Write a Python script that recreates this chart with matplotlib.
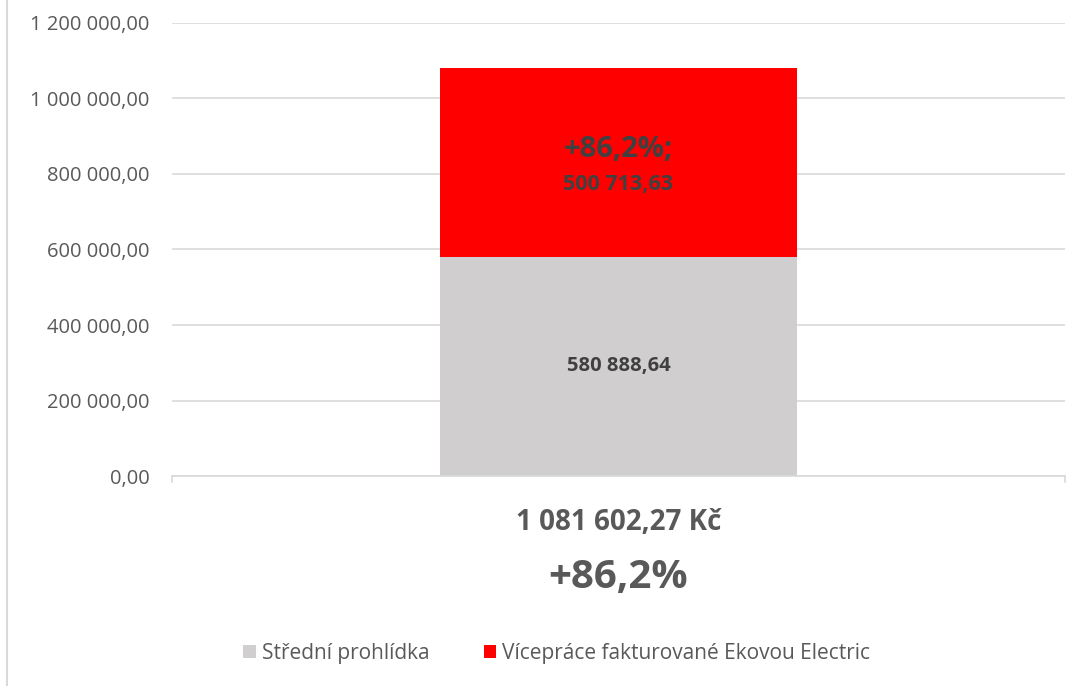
import matplotlib.pyplot as plt
from matplotlib.lines import Line2D
from matplotlib.patches import Patch

plt.rcParams['font.family'] = ['Open Sans', 'DejaVu Sans']

categories = ['1 081 602,27 Kč']
series_names = ['Střední prohlídka', 'Vícepráce fakturované Ekovou Electric']
base_vals = [580888.64]
extra_vals = [500713.63]
base_labels = ['580 888,64']
extra_labels = ['500 713,63']
pct_label = '+86,2%'
yticks = [0, 200000, 400000, 600000, 800000, 1000000, 1200000]
ytick_labels = ['0,00', '200 000,00', '400 000,00', '600 000,00',
                '800 000,00', '1 000 000,00', '1 200 000,00']

grey = '#d0cecf'
red = '#ff0000'
txt = '#595959'
dark = '#404040'

fig = plt.figure(figsize=(10.83, 6.86), dpi=100)
ax = fig.add_axes([0.1588, 0.3061, 0.8246, 0.6604])

x = list(range(len(categories)))
ax.bar(x, base_vals, width=0.4, color=grey, zorder=2)
ax.bar(x, extra_vals, width=0.4, bottom=base_vals, color=red, zorder=2)

for i in x:
    ax.text(i, base_vals[i] / 2, base_labels[i], ha='center', va='center',
            fontsize=14.5, fontweight='bold', color=dark, zorder=3)
    top_mid = base_vals[i] + extra_vals[i] / 2
    ax.text(i, top_mid + 33000, pct_label + ';', ha='center', va='center',
            fontsize=21, fontweight='bold', color=dark, zorder=3)
    ax.text(i, top_mid - 60000, extra_labels[i], ha='center', va='center',
            fontsize=15.5, fontweight='bold', color=dark, zorder=3)

ax.set_xlim(-0.5, 0.5)
ax.set_ylim(0, 1200000)
ax.set_yticks(yticks)
ax.set_yticklabels(ytick_labels, fontsize=14.5, color=txt)
ax.tick_params(axis='y', length=0, pad=16)
ax.set_xticks([])
ax.grid(axis='y', color='#d9d9d9', linewidth=1.2, zorder=0)
for s in ['top', 'right', 'left']:
    ax.spines[s].set_visible(False)
ax.spines['bottom'].set_color('#d9d9d9')
ax.spines['bottom'].set_linewidth(1.2)
# end ticks on the category axis
for xe in [-0.5, 0.5]:
    ax.plot([xe, xe], [0, -15000], color='#d9d9d9', lw=1.2, clip_on=False)

ax.text(0, -122000, categories[0], ha='center', va='center', fontsize=20,
        fontweight='bold', color=txt)
ax.text(0, -270000, pct_label, ha='center', va='center', fontsize=29,
        fontweight='bold', color=txt)

handles = [Patch(facecolor=grey), Patch(facecolor=red)]
fig.legend(handles, series_names, loc='center', bbox_to_anchor=(0.514, 1 - 653 / 686),
           ncol=2, frameon=False, fontsize=15, labelcolor=txt,
           handlelength=0.6, handleheight=0.6, handletextpad=0.3, columnspacing=2.6)

fig.add_artist(Line2D([7 / 1083, 7 / 1083], [0, 1], color='#d9d9d9', lw=1.5,
                      transform=fig.transFigure))

fig.savefig('out.png', dpi=100)
